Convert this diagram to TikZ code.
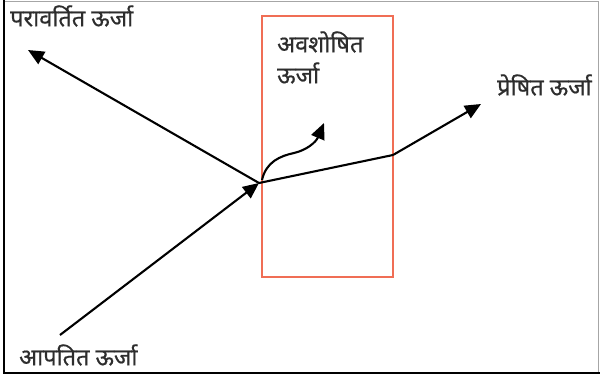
\documentclass[tikz,border=0pt]{standalone}
\usepackage{fontspec}
\newfontfamily\deva[Script=Devanagari,FakeBold=0.6]{Noto Sans}
\usetikzlibrary{arrows.meta}
\definecolor{boxred}{RGB}{240,110,85}
\definecolor{txt}{RGB}{45,45,45}
\tikzset{
  ray/.style={line width=2.1pt, black, -{Triangle[length=16pt,width=14pt]}},
  seg/.style={line width=2.1pt, black},
  lbl/.style={inner sep=0pt, text=txt, font=\deva\fontsize{23.5}{27}\selectfont, anchor=west}
}
\begin{document}
\begin{tikzpicture}[x=1pt,y=-1pt]
\useasboundingbox (0,0) rectangle (600,380);
% frame
\draw[gray!70, line width=1.5pt] (4,1.5) -- (598.5,1.5) -- (598.5,373);
\draw[black, line width=2.2pt] (4,0) -- (4,373) -- (600,373);
% absorbing box
\node[draw=boxred, line width=1.8pt, minimum width=131pt, minimum height=261pt, inner sep=0pt] (box) at (327.5,146.5) {};
% points
\coordinate (P) at (259,183);
\coordinate (I) at (60,335);
\coordinate (R) at (28,50);
\coordinate (B) at (393,155);
\coordinate (T) at (481,104);
\coordinate (A) at (324,123);
% rays
\draw[ray] (I) -- (P);
\draw[ray] (P) -- (R);
\draw[seg] (P) -- (B);
\draw[ray] (B) -- (T);
\draw[ray] (262,180) .. controls (266,162) and (280,156) .. (294,153) .. controls (307,150) and (316,142) .. (A);
% labels
\node[lbl] (lr) at (10,16) {परावर्तित ऊर्जा};
\node[lbl] (la1) at (277,42) {अवशोषित};
\node[lbl] (la2) at (277,73) {ऊर्जा};
\node[lbl] (lt) at (497,85) {प्रेषित ऊर्जा};
\node[lbl] (li) at (19,355) {आपतित ऊर्जा};
\end{tikzpicture}
\end{document}
